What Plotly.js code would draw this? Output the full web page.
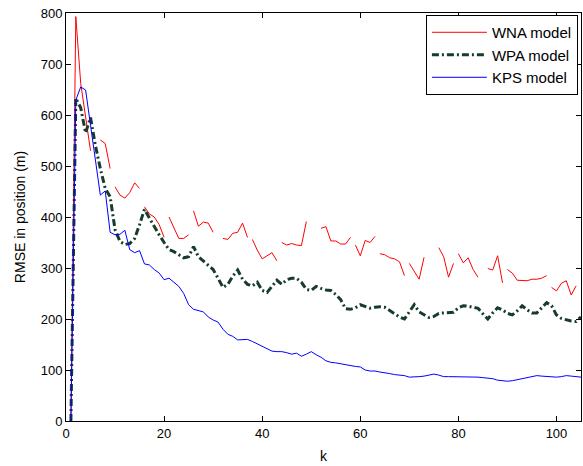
<!DOCTYPE html>
<html>
<head>
<meta charset="utf-8">
<script src="https://cdn.plot.ly/plotly-3.0.1.min.js"></script>
<style>html,body{margin:0;padding:0;background:#fff;}#chart{width:583px;height:466px;}</style>
</head>
<body>
<div id="chart"></div>
<script>
// k = 1..105
var kValues = [];
for (var i = 1; i <= 105; i++) kValues.push(i);

// WNA model (null = missing value)
var wnaVal = [0,793,662,595,530,null,551,544,495,459,
  443,437,448,467,456,420,406,400,385,360,
  400,378,358,358,365,412,382,390,388,370,
  null,358,356,368,370,388,360,356,335,318,
  324,330,314,350,345,348,345,344,391,null,
  null,378,381,353,353,347,347,360,345,324,
  354,350,362,328,326,320,318,312,285,309,
  292,278,321,null,null,340,322,282,309,328,
  310,320,297,282,null,299,296,324,271,297,
  290,276,276,275,278,278,280,285,262,255,
  270,275,247,265,null];
// the WNA line is broken after these k values
var wnaBreaks = [9,15,20,25,37,43,58,63,69,79,89,98];

// WPA model
var wpaVal = [0,633,614,565,595,540,495,456,440,375,
  352,346,348,358,385,415,398,380,365,350,
  336,332,326,320,322,342,322,314,305,297,
  280,262,268,284,296,278,268,265,272,256,
  252,265,276,268,277,280,280,272,258,256,
  264,260,257,256,248,238,220,219,222,228,
  224,221,223,224,223,217,210,204,200,215,
  228,214,208,203,205,211,212,212,213,222,
  226,225,223,221,210,200,212,222,218,211,
  208,216,226,218,212,212,222,232,226,208,
  201,198,196,195,204];

// KPS model
var kpsVal = [0,629,655,649,580,510,443,451,370,365,
  366,374,336,330,334,308,306,297,290,277,
  280,272,264,250,228,219,216,214,204,198,
  194,180,170,166,159,159,160,156,151,147,
  142,137,136,136,134,131,133,127,131,136,
  130,125,118,115,114,112,110,108,107,106,
  100,98,98,96,95,93,91,90,89,86,
  86,87,88,90,92,90,87,87,87,87,
  87,86,86,86,85,84,83,80,79,78,
  79,81,83,85,87,89,88,87,86,86,
  87,89,88,87,86];

var seriesNames = ['WNA model','WPA model','KPS model'];
var xTicks = [0,20,40,60,80,100];
var yTicks = [0,100,200,300,400,500,600,700,800];

// build broken WNA line
var wnaX = [], wnaY = [];
for (var j = 0; j < kValues.length; j++) {
  wnaX.push(kValues[j]); wnaY.push(wnaVal[j]);
  if (wnaBreaks.indexOf(kValues[j]) >= 0) { wnaX.push(kValues[j] + 0.5); wnaY.push(null); }
}

var traces = [
  {x: wnaX, y: wnaY, mode: 'lines', name: seriesNames[0], connectgaps: false,
   line: {color: '#ff0000', width: 1}},
  {x: kValues, y: wpaVal, mode: 'lines', name: seriesNames[1],
   line: {color: '#173d2a', width: 3, dash: '7px,3px,2px,3px'}},
  {x: kValues, y: kpsVal, mode: 'lines', name: seriesNames[2],
   line: {color: '#0000ff', width: 1}}
];

var axisFont = {family: 'Liberation Sans, Arial, sans-serif', size: 13, color: '#000'};
var layout = {
  width: 583, height: 466,
  margin: {l: 66, r: 2, t: 13, b: 45},
  paper_bgcolor: '#fff', plot_bgcolor: '#fff',
  font: axisFont,
  showlegend: true,
  xaxis: {range: [0, 105], tickvals: xTicks, ticks: 'inside', ticklen: 5, tickcolor: '#000',
    showline: true, linecolor: '#000', linewidth: 1, mirror: 'ticks', showgrid: false, zeroline: false,
    tickfont: axisFont, title: {text: 'k', font: {family: axisFont.family, size: 14, color: '#000'}, standoff: 11}},
  yaxis: {range: [0, 800], tickvals: yTicks, ticks: 'inside', ticklen: 5, tickcolor: '#000',
    showline: true, linecolor: '#000', linewidth: 1, mirror: 'ticks', showgrid: false, zeroline: false,
    tickfont: axisFont, title: {text: 'RMSE in position (m)', font: {family: axisFont.family, size: 14, color: '#000'}, standoff: 11}},
  legend: {x: 0.994, y: 0.995, xanchor: 'right', yanchor: 'top', bgcolor: '#fff',
    bordercolor: '#000', borderwidth: 1, itemwidth: 55,
    font: {family: 'Liberation Sans, Arial, sans-serif', size: 15, color: '#000'},
    tracegroupgap: 0}
};

Plotly.newPlot('chart', traces, layout, {staticPlot: true, displayModeBar: false});
</script>
</body>
</html>
